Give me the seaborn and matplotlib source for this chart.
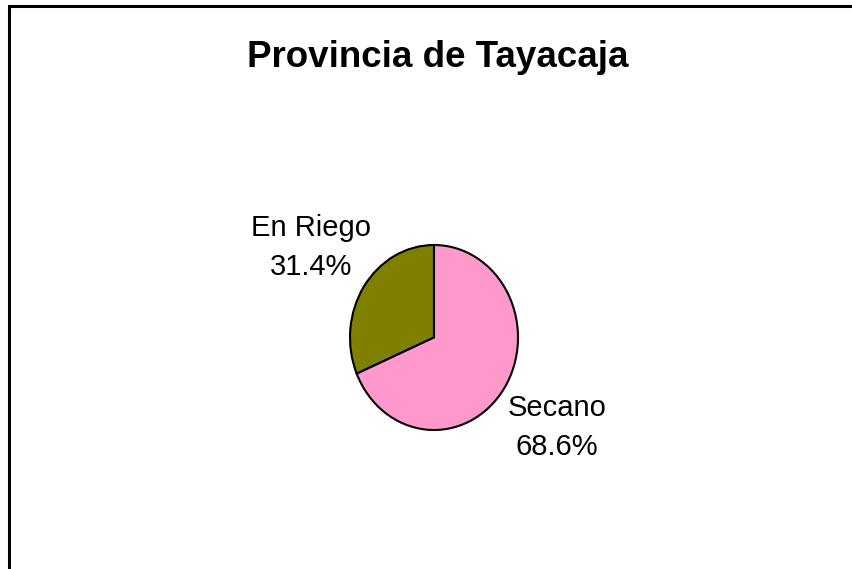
import matplotlib
matplotlib.use("Agg")
import matplotlib.pyplot as plt
import seaborn as sns
from matplotlib.patches import Rectangle

# data
categories = ["En Riego", "Secano"]
shares = [31.4, 68.6]
slice_colors = ["#808000", "#FF99CC"]
title = "Provincia de Tayacaja"

sns.set_theme(style="white")
plt.rcParams["font.family"] = ["Liberation Sans", "DejaVu Sans"]

fig = plt.figure(figsize=(8.52, 5.69), dpi=100)
fig.patch.set_facecolor("white")

# chart frame (only top and left edges are visible in the crop)
frame = Rectangle((9 / 852, -0.1), 1.2, 1.1 - 6 / 569, transform=fig.transFigure,
                  fill=False, edgecolor="black", linewidth=2.2)
fig.patches.append(frame)

fig.text(0.5135, 0.899, title, ha="center", va="center",
         fontsize=26.5, fontweight="bold", color="black")

ax = fig.add_axes([350 / 852, 1 - 430 / 569, 168 / 852, 185 / 569])
labels = [f"{c}\n{v:.1f}%" for c, v in zip(categories, shares)]
wedges, texts = ax.pie(shares, labels=labels, colors=slice_colors, startangle=90,
                       labeldistance=1.76,
                       wedgeprops=dict(edgecolor="black", linewidth=1.5),
                       textprops=dict(fontsize=21, ha="center", va="center",
                                      color="black", linespacing=1.5))
ax.set_aspect("auto")
ax.set_xlim(-1, 1)
ax.set_ylim(-1, 1)
ax.axis("off")

fig.savefig("out.png", dpi=100, facecolor="white")
